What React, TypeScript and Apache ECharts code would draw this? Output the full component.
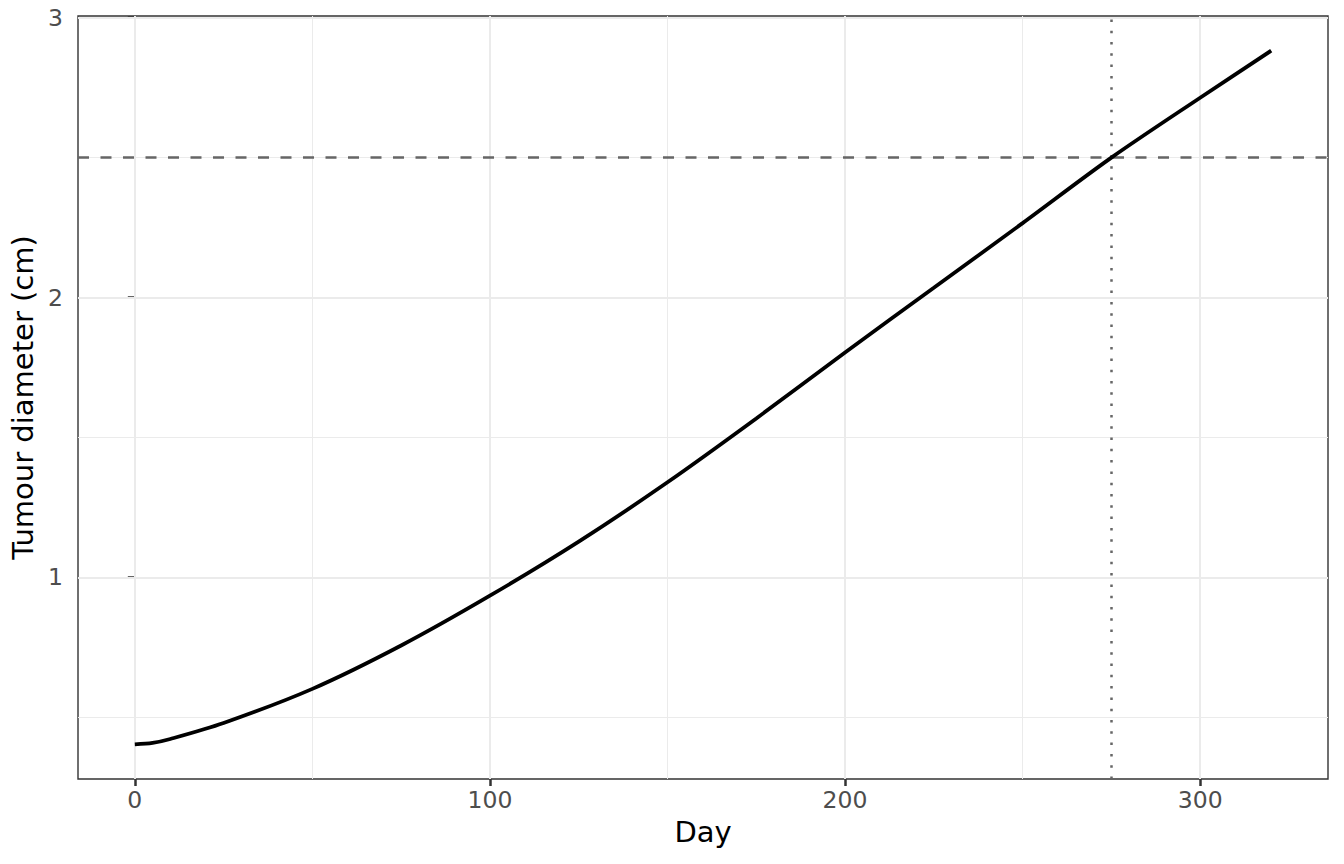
import React, { useEffect, useRef } from 'react';
import * as echarts from 'echarts';

// growth curve
const days = [0, 5, 10, 25, 50, 75, 100, 125, 150, 175, 200, 225, 250, 275, 300, 320];
const diameter = [0.404, 0.409, 0.423, 0.48, 0.602, 0.757, 0.935, 1.128, 1.34, 1.568, 1.804, 2.035, 2.266, 2.5, 2.714, 2.882];

const xMajorTicks = [0, 100, 200, 300];
const xMinorTicks = [50, 150, 250];
const yMajorTicks = [1, 2, 3];
const yMinorTicks = [0.5, 1.5, 2.5];

const thresholdDiameter = 2.5;
const thresholdDay = 275;

const FONT = 'DejaVu Sans';

export default function App() {
    const chartRef = useRef<HTMLDivElement>(null);

    useEffect(() => {
        const chart = echarts.init(chartRef.current!, null, { renderer: 'svg' });

        const gridLine = (key: string, v: number, width: number) => ({
            [key]: v,
            lineStyle: { color: '#EBEBEB', width, type: 'solid' },
        });

        chart.setOption({
            animation: false,
            grid: {
                left: 78,
                right: 16,
                top: 16,
                bottom: 85,
                show: true,
                borderColor: '#333333',
                borderWidth: 1.4,
                backgroundColor: '#fff',
            },
            xAxis: {
                type: 'value',
                min: -16,
                max: 336,
                name: 'Day',
                nameLocation: 'middle',
                nameGap: 38,
                nameTextStyle: { fontSize: 29, color: '#000', fontFamily: FONT },
                axisLine: { show: false },
                axisTick: {
                    show: true,
                    length: 7,
                    customValues: xMajorTicks,
                    lineStyle: { color: '#333333', width: 2.5 },
                },
                axisLabel: {
                    customValues: xMajorTicks,
                    margin: 9,
                    fontSize: 23.5,
                    color: '#4D4D4D',
                    fontFamily: FONT,
                },
                splitLine: { show: false },
            },
            yAxis: {
                type: 'value',
                min: 0.28,
                max: 3.006,
                name: 'Tumour diameter (cm)',
                nameLocation: 'middle',
                nameGap: 31,
                nameTextStyle: { fontSize: 29, color: '#000', fontFamily: FONT },
                axisLine: { show: false },
                axisTick: {
                    show: true,
                    length: 7,
                    customValues: yMajorTicks,
                    lineStyle: { color: '#333333', width: 2.5 },
                },
                axisLabel: {
                    customValues: yMajorTicks,
                    margin: 15,
                    fontSize: 23.5,
                    color: '#4D4D4D',
                    fontFamily: FONT,
                },
                splitLine: { show: false },
            },
            series: [
                {
                    // panel grid lines
                    type: 'line',
                    z: 1,
                    silent: true,
                    data: days.map((d, i) => [d, diameter[i]]),
                    showSymbol: false,
                    lineStyle: { opacity: 0 },
                    markLine: {
                        z: 1,
                        silent: true,
                        symbol: ['none', 'none'],
                        label: { show: false },
                        emphasis: { disabled: true },
                        data: [
                            ...xMinorTicks.map((v) => gridLine('xAxis', v, 1)),
                            ...yMinorTicks.map((v) => gridLine('yAxis', v, 1)),
                            ...xMajorTicks.map((v) => gridLine('xAxis', v, 2)),
                            ...yMajorTicks.map((v) => gridLine('yAxis', v, 2)),
                        ],
                    },
                },
                {
                    // reference lines
                    type: 'line',
                    z: 2,
                    silent: true,
                    data: days.map((d, i) => [d, diameter[i]]),
                    showSymbol: false,
                    lineStyle: { opacity: 0 },
                    markLine: {
                        z: 2,
                        silent: true,
                        symbol: ['none', 'none'],
                        label: { show: false },
                        emphasis: { disabled: true },
                        data: [
                            {
                                yAxis: thresholdDiameter,
                                lineStyle: { color: '#666666', width: 2.5, type: [11, 11.5] },
                            },
                            {
                                xAxis: thresholdDay,
                                lineStyle: { color: '#666666', width: 2.5, type: [2.5, 8.8] },
                            },
                        ],
                    },
                },
                {
                    type: 'line',
                    z: 10,
                    silent: true,
                    data: days.map((d, i) => [d, diameter[i]]),
                    showSymbol: false,
                    smooth: 0.3,
                    lineStyle: { color: '#000', width: 3.8 },
                },
            ],
        });

        return () => {
            chart.dispose();
        };
    }, []);

    return (
        <div
            ref={chartRef}
            style={{ position: 'absolute', left: 0, top: 0, width: 1344, height: 864, background: '#fff' }}
        />
    );
}
